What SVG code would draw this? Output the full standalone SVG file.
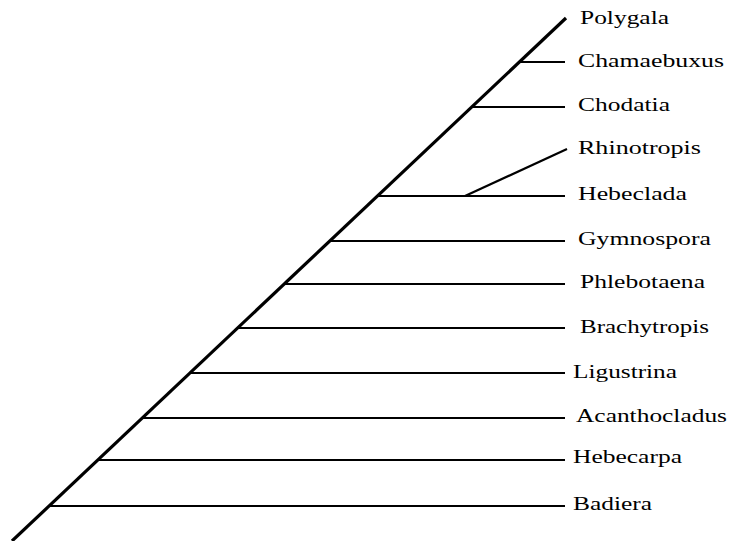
<svg xmlns="http://www.w3.org/2000/svg" width="729" height="541" viewBox="0 0 729 541">
<style>
.stem{stroke:#000;stroke-width:3.2;fill:none;stroke-linecap:butt}
.br{stroke:#000;stroke-width:2.2;fill:none;stroke-linecap:butt}
.lbl{font-family:"Liberation Serif","Times New Roman",serif;font-size:18.5px;fill:#000}
</style>
<rect width="729" height="541" fill="#fff"/>
<g id="connectors">
<line class="stem" x1="12" y1="541" x2="566" y2="18"/>
<line class="br" x1="519" y1="62" x2="565" y2="62"/>
<line class="br" x1="471" y1="107" x2="565" y2="107"/>
<line class="br" x1="377" y1="196" x2="565" y2="196"/>
<line class="br" x1="465" y1="196" x2="567" y2="149"/>
<line class="br" x1="329" y1="241" x2="565" y2="241"/>
<line class="br" x1="284" y1="284" x2="565" y2="284"/>
<line class="br" x1="237" y1="328" x2="565" y2="328"/>
<line class="br" x1="190" y1="373" x2="565" y2="373"/>
<line class="br" x1="142" y1="418" x2="565" y2="418"/>
<line class="br" x1="97" y1="460" x2="565" y2="460"/>
<line class="br" x1="49" y1="506" x2="565" y2="506"/>
</g>
<g id="polygala"><text class="lbl" x="580" y="24" textLength="89" lengthAdjust="spacingAndGlyphs">Polygala</text></g>
<g id="chamaebuxus"><text class="lbl" x="578" y="67" textLength="146" lengthAdjust="spacingAndGlyphs">Chamaebuxus</text></g>
<g id="chodatia"><text class="lbl" x="578" y="111" textLength="92" lengthAdjust="spacingAndGlyphs">Chodatia</text></g>
<g id="rhinotropis"><text class="lbl" x="578" y="154" textLength="123" lengthAdjust="spacingAndGlyphs">Rhinotropis</text></g>
<g id="hebeclada"><text class="lbl" x="578" y="200" textLength="109" lengthAdjust="spacingAndGlyphs">Hebeclada</text></g>
<g id="gymnospora"><text class="lbl" x="578" y="245" textLength="133" lengthAdjust="spacingAndGlyphs">Gymnospora</text></g>
<g id="phlebotaena"><text class="lbl" x="580" y="288" textLength="125" lengthAdjust="spacingAndGlyphs">Phlebotaena</text></g>
<g id="brachytropis"><text class="lbl" x="580" y="333" textLength="129" lengthAdjust="spacingAndGlyphs">Brachytropis</text></g>
<g id="ligustrina"><text class="lbl" x="573" y="378" textLength="104" lengthAdjust="spacingAndGlyphs">Ligustrina</text></g>
<g id="acanthocladus"><text class="lbl" x="576" y="422" textLength="151" lengthAdjust="spacingAndGlyphs">Acanthocladus</text></g>
<g id="hebecarpa"><text class="lbl" x="573" y="463" textLength="109" lengthAdjust="spacingAndGlyphs">Hebecarpa</text></g>
<g id="badiera"><text class="lbl" x="573" y="510" textLength="79" lengthAdjust="spacingAndGlyphs">Badiera</text></g>
</svg>
